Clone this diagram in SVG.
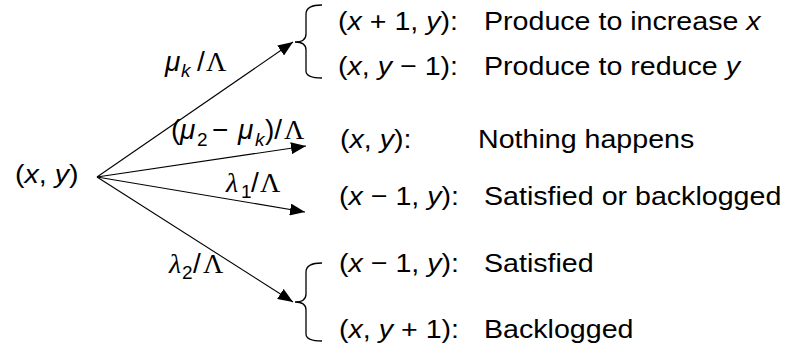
<svg xmlns="http://www.w3.org/2000/svg" width="785" height="354" viewBox="0 0 785 354">
<style>
.t{font-family:"Liberation Sans",Arial,sans-serif;font-size:26px;fill:#000}
.m{font-family:"Liberation Sans",Arial,sans-serif;font-size:28px;fill:#000}
.i{font-style:italic}
.sub{font-family:"Liberation Sans",Arial,sans-serif;font-size:19px}
.sf{font-family:"Liberation Serif","Times New Roman",serif}
.ln{fill:none;stroke:#000;stroke-width:1.1}
.br{fill:none;stroke:#000;stroke-width:1.3}
</style>
<defs>
<marker id="ah" markerUnits="userSpaceOnUse" markerWidth="16" markerHeight="12" refX="15" refY="6" orient="auto">
<path d="M0,0 L15,6 L0,12 Z" fill="#000"/>
</marker>
</defs>
<rect width="785" height="354" fill="#fff"/>

<g id="source">
<text class="t" transform="translate(15 183) scale(1.1 1)">(<tspan class="i">x</tspan>, <tspan class="i">y</tspan>)</text>
</g>

<g id="connectors">
<line class="ln" x1="97" y1="177" x2="293" y2="42" marker-end="url(#ah)"/>
<line class="ln" x1="97" y1="177" x2="306" y2="146" marker-end="url(#ah)"/>
<line class="ln" x1="97" y1="177" x2="305" y2="212" marker-end="url(#ah)"/>
<line class="ln" x1="97" y1="177" x2="293" y2="302" marker-end="url(#ah)"/>
</g>

<g id="labels">
<text class="m"><tspan class="i" x="165" y="71">μ</tspan><tspan class="sub i" x="181" y="77">k</tspan><tspan x="197" y="71">/</tspan><tspan class="sf" x="206" y="71">Λ</tspan></text>
<text class="m"><tspan x="171" y="139">(</tspan><tspan class="i" x="180" y="139">μ</tspan><tspan class="sub" x="197" y="146">2</tspan><tspan x="212" y="139">−</tspan><tspan class="i" x="238" y="139">μ</tspan><tspan class="sub i" x="255" y="146">k</tspan><tspan x="265" y="139">)/</tspan><tspan class="sf" x="284" y="139">Λ</tspan></text>
<text class="m"><tspan class="sf i" x="226" y="192">λ</tspan><tspan class="sub" x="241" y="198">1</tspan><tspan x="251" y="192">/</tspan><tspan class="sf" x="260" y="192">Λ</tspan></text>
<text class="m"><tspan class="sf i" x="169" y="273">λ</tspan><tspan class="sub" x="182" y="279">2</tspan><tspan x="193" y="273">/</tspan><tspan class="sf" x="203" y="273">Λ</tspan></text>
</g>

<g id="brace-produce">
<path class="br" d="M322,5 C312,5 306,7 306,14 L306,34 C306,39 302,42 295,42 C302,42 306,45 306,50 L306,71 C306,76 312,78 322,78"/>
</g>
<g id="brace-demand2">
<path class="br" d="M322,263 C312,263 306,265 306,272 L306,294 C306,299 302,302 295,302 C302,302 306,305 306,310 L306,334 C306,339 312,341 322,341"/>
</g>

<g id="state-x1y">
<text class="t" transform="translate(338 30) scale(1.1 1)">(<tspan class="i">x</tspan> + 1, <tspan class="i">y</tspan>):</text>
<text class="t" transform="translate(484 30) scale(1.1 1)">Produce to increase <tspan class="i">x</tspan></text>
</g>
<g id="state-xy-1">
<text class="t" transform="translate(338 75) scale(1.1 1)">(<tspan class="i">x</tspan>, <tspan class="i">y</tspan> − 1):</text>
<text class="t" transform="translate(484 75) scale(1.1 1)">Produce to reduce <tspan class="i">y</tspan></text>
</g>
<g id="state-xy">
<text class="t" transform="translate(340 148) scale(1.1 1)">(<tspan class="i">x</tspan>, <tspan class="i">y</tspan>):</text>
<text class="t" transform="translate(478 148) scale(1.1 1)">Nothing happens</text>
</g>
<g id="state-x-1y-a">
<text class="t" transform="translate(339 205) scale(1.1 1)">(<tspan class="i">x</tspan> − 1, <tspan class="i">y</tspan>):</text>
<text class="t" transform="translate(484 205) scale(1.1 1)">Satisfied or backlogged</text>
</g>
<g id="state-x-1y-b">
<text class="t" transform="translate(339 272) scale(1.1 1)">(<tspan class="i">x</tspan> − 1, <tspan class="i">y</tspan>):</text>
<text class="t" transform="translate(484 272) scale(1.1 1)">Satisfied</text>
</g>
<g id="state-xy1">
<text class="t" transform="translate(339 338) scale(1.1 1)">(<tspan class="i">x</tspan>, <tspan class="i">y</tspan> + 1):</text>
<text class="t" transform="translate(484 338) scale(1.1 1)">Backlogged</text>
</g>
</svg>
